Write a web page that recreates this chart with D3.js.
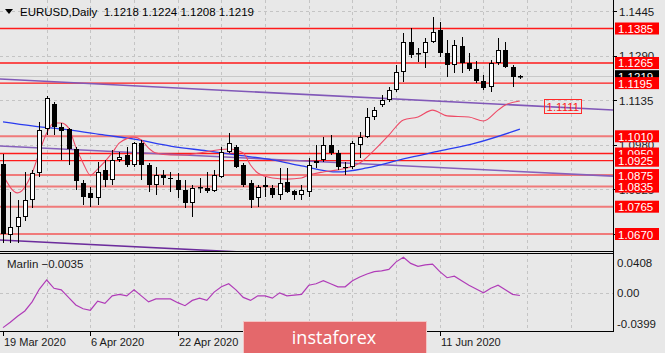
<!DOCTYPE html>
<html>
<head>
<meta charset="utf-8">
<script src="https://cdn.jsdelivr.net/npm/d3@7"></script>
<style>
body { margin: 0; background: #e8e8e8; }
svg text { font-family: "Liberation Sans", Arial, sans-serif; }
</style>
</head>
<body>
<svg id="chart" width="665" height="353"></svg>
<script>
// daily candles, 19 Mar 2020 .. 26 Jun 2020 (bar index 0..71)
const barOpen = [1.0915,1.0668,1.0694,1.0729,1.0788,1.0882,1.1035,1.1122,1.1042,1.1035,
  1.0966,1.0847,1.0813,1.0795,1.0893,1.0858,1.0927,1.0944,1.0910,1.0986,
  1.0910,1.0840,1.0875,1.0866,1.0858,1.0823,1.0778,1.0829,1.0830,1.0820,
  1.0868,1.0955,1.0973,1.0910,1.0847,1.0795,1.0840,1.0830,1.0806,1.0851,
  1.0820,1.0806,1.0816,1.0917,1.0927,1.0980,1.0952,1.0902,1.0903,1.0980,
  1.1007,1.1077,1.1119,1.1136,1.1171,1.1234,1.1338,1.1299,1.1300,1.1338,
  1.1380,1.1300,1.1258,1.1324,1.1265,1.1244,1.1202,1.1181,1.1265,1.1310,
  1.1251,1.1218];
const barHigh = [1.0950,1.0815,1.0788,1.0886,1.0893,1.1060,1.1150,1.1129,1.1056,1.1039,
  1.0973,1.0858,1.0833,1.0920,1.0927,1.0962,1.0955,1.0973,1.0990,1.0997,
  1.0917,1.0903,1.0893,1.0886,1.0882,1.0858,1.0840,1.0865,1.0886,1.0893,
  1.0973,1.1021,1.0980,1.0917,1.0858,1.0840,1.0868,1.0840,1.0900,1.0900,
  1.0823,1.0840,1.0934,1.0980,1.1007,1.1014,1.0962,1.0920,1.0995,1.1025,
  1.1108,1.1112,1.1152,1.1182,1.1258,1.1369,1.1387,1.1317,1.1352,1.1425,
  1.1408,1.1345,1.1345,1.1355,1.1300,1.1272,1.1223,1.1276,1.1352,1.1338,
  1.1258,1.1224];
const barLow = [1.0638,1.0639,1.0639,1.0715,1.0760,1.0868,1.1014,1.1014,1.0927,1.0910,
  1.0823,1.0771,1.0764,1.0771,1.0833,1.0840,1.0920,1.0903,1.0903,1.0858,
  1.0816,1.0806,1.0840,1.0816,1.0795,1.0760,1.0729,1.0813,1.0813,1.0816,
  1.0865,1.0952,1.0900,1.0833,1.0760,1.0764,1.0799,1.0795,1.0788,1.0813,
  1.0788,1.0788,1.0799,1.0900,1.0920,1.0945,1.0893,1.0875,1.0895,1.0935,
  1.1004,1.1067,1.1112,1.1129,1.1164,1.1199,1.1282,1.1268,1.1248,1.1334,
  1.1286,1.1216,1.1230,1.1230,1.1237,1.1195,1.1171,1.1164,1.1258,1.1248,
  1.1181,1.1208];
const barClose = [1.0670,1.0694,1.0729,1.0788,1.0882,1.1032,1.1143,1.1042,1.1028,1.0966,
  1.0854,1.0799,1.0795,1.0886,1.0858,1.0927,1.0938,1.0910,1.0986,1.0910,
  1.0840,1.0875,1.0865,1.0864,1.0823,1.0778,1.0830,1.0834,1.0820,1.0875,
  1.0955,1.0986,1.0903,1.0840,1.0788,1.0833,1.0833,1.0806,1.0848,1.0816,
  1.0806,1.0823,1.0910,1.0924,1.0980,1.0952,1.0903,1.0901,1.0987,1.1007,
  1.1077,1.1101,1.1136,1.1171,1.1234,1.1338,1.1293,1.1301,1.1338,1.1373,
  1.1300,1.1258,1.1328,1.1265,1.1244,1.1202,1.1178,1.1265,1.1310,1.1251,
  1.1216,1.1219];

// fast (pink) and slow (blue) moving averages
const fastBars = [0,2,4,5,6,7,8,9,10,11,12,13,15,16,18,19,20,21,23,25,27,31,33,34,35,37,39,41,42,44,46,49,51,53,55,57,59,61,64,66,68,69,71];
const fastVals = [1.0875,1.0813,1.0882,1.0955,1.1021,1.1056,1.1056,1.1039,1.0973,1.0917,1.0875,1.0896,1.0952,1.0987,1.1007,1.0997,1.0969,1.0952,1.0945,1.0945,1.0952,1.0966,1.0952,1.0910,1.0882,1.0865,1.0861,1.0865,1.0875,1.0886,1.0893,1.0917,1.0962,1.1014,1.1067,1.1077,1.1101,1.1081,1.1077,1.1063,1.1101,1.1119,1.1133];
const slowBars = [0,4,9,14,18,23,28,32,37,41,46,50,55,60,65,71];
const slowVals = [1.1060,1.1046,1.1032,1.1014,1.1000,1.0976,1.0959,1.0945,1.0928,1.0907,1.0886,1.0900,1.0931,1.0959,1.0987,1.1035];

// channel lines (anchor bars and prices)
const trendBars = [-1, 85];
const trendUpper = [1.1210, 1.1100];
const trendMiddle = [1.0977, 1.0870];
const trendLower = [1.0650, 1.0541];
const trendTag = "1.1111";

// horizontal levels and price axis
const levelPrices = [1.1385, 1.1265, 1.1195, 1.1010, 1.0950, 1.0925, 1.0875, 1.0835, 1.0765, 1.0670];
const gridPrices = [1.1445, 1.1290, 1.1135, 1.0980, 1.0825, 1.0670];
const bidPrice = 1.1219;

// time axis
const tickBars = [0, 12, 24, 36, 48, 60];
const tickLabels = ["19 Mar 2020", "6 Apr 2020", "22 Apr 2020", "8 May 2020", "26 May 2020", "11 Jun 2020"];

// Marlin oscillator
const marlin = [-0.046,-0.039,-0.031,-0.024,-0.012,0.005,0.017,0.006,0.004,-0.006,
  -0.016,-0.021,-0.023,-0.011,-0.014,-0.004,-0.002,-0.004,0.004,-0.004,
  -0.012,-0.008,-0.008,-0.008,-0.013,-0.017,-0.010,-0.007,-0.010,0.001,
  0.008,0.012,0.004,-0.006,-0.010,-0.004,-0.004,-0.007,0.000,-0.004,
  -0.003,-0.002,0.010,0.012,0.016,0.012,0.008,0.008,0.016,0.021,
  0.025,0.028,0.029,0.031,0.041,0.047,0.039,0.035,0.037,0.038,
  0.028,0.020,0.022,0.016,0.010,0.005,0.000,0.006,0.010,0.004,
  -0.002,-0.0035];
const marlinTicks = [0.0408, 0, -0.0399];
const marlinTickLabels = ["0.0408", "0.00", "-0.0399"];

const plotR = 613, mainB = 251, subT = 253, subB = 331;
const svg = d3.select("#chart");
const fmt = d3.format(".4f");

const x = d3.scaleLinear().domain([0, 71]).range([3, 519.9]);
const y = d3.scaleLinear().domain([1.0670, 1.1385]).range([234, 28.5]);
const ym = d3.scaleLinear().domain([-0.0399, 0.0408]).range([323, 262]);

svg.append("rect").attr("width", 665).attr("height", 353).attr("fill", "#e8e8e8");

const defs = svg.append("defs");
defs.append("clipPath").attr("id", "clipMain")
  .append("rect").attr("x", 0).attr("y", 0).attr("width", plotR).attr("height", mainB);
defs.append("clipPath").attr("id", "clipSub")
  .append("rect").attr("x", 0).attr("y", subT + 1).attr("width", plotR).attr("height", subB - subT - 1);

const main = svg.append("g").attr("clip-path", "url(#clipMain)");
const sub = svg.append("g").attr("clip-path", "url(#clipSub)");

// grid
const gridBars = d3.range(6, 85, 6);
[main, sub].forEach((g, k) => {
  g.selectAll("line.vg").data(gridBars).join("line")
    .attr("class", "vg")
    .attr("x1", d => Math.round(x(d)) + 0.5).attr("x2", d => Math.round(x(d)) + 0.5)
    .attr("y1", k ? subT : 0).attr("y2", k ? subB : mainB)
    .attr("stroke", "#c4c4c4").attr("stroke-dasharray", "3,3");
});
main.selectAll("line.hg").data(gridPrices).join("line")
  .attr("class", "hg")
  .attr("x1", 0).attr("x2", plotR)
  .attr("y1", d => Math.round(y(d)) + 0.5).attr("y2", d => Math.round(y(d)) + 0.5)
  .attr("stroke", "#c4c4c4").attr("stroke-dasharray", "3,3");
sub.append("line")
  .attr("x1", 0).attr("x2", plotR)
  .attr("y1", Math.round(ym(0)) + 0.5).attr("y2", Math.round(ym(0)) + 0.5)
  .attr("stroke", "#c4c4c4").attr("stroke-dasharray", "3,3");

// bid line
main.append("line")
  .attr("x1", 0).attr("x2", plotR)
  .attr("y1", Math.round(y(bidPrice)) + 0.5).attr("y2", Math.round(y(bidPrice)) + 0.5)
  .attr("stroke", "#c8c8c8");

// horizontal levels
const softLevels = new Set([1.1010, 1.0875, 1.0835, 1.0765, 1.0670]);
main.selectAll("line.lvl").data(levelPrices).join("line")
  .attr("class", "lvl")
  .attr("x1", 0).attr("x2", plotR)
  .attr("y1", d => y(d)).attr("y2", d => y(d))
  .attr("stroke", d => softLevels.has(d) ? "#f07a7a" : "#ff1a1a")
  .attr("stroke-width", d => softLevels.has(d) ? 2 : 1.3);

// channel lines
const trendLine = d3.line().x((d, i) => x(trendBars[i])).y(d => y(d));
[[trendUpper, "#8158b8"], [trendMiddle, "#8660bc"], [trendLower, "#6c2c9c"]].forEach(([vals, col]) => {
  main.append("path").attr("d", trendLine(vals))
    .attr("fill", "none").attr("stroke", col).attr("stroke-width", 1.6);
});

// moving averages
const maLine = bars => d3.line().x((d, i) => x(bars[i])).y(d => y(d)).curve(d3.curveMonotoneX);
main.append("path").attr("d", maLine(slowBars)(slowVals))
  .attr("fill", "none").attr("stroke", "#2a3cf0").attr("stroke-width", 1.3);
main.append("path").attr("d", maLine(fastBars)(fastVals))
  .attr("fill", "none").attr("stroke", "#ee4a66").attr("stroke-width", 1.1);

// candles
const bars = d3.range(barOpen.length);
const px = i => Math.round(x(i));
main.selectAll("line.wick").data(bars).join("line")
  .attr("class", "wick")
  .attr("x1", i => px(i) + 0.5).attr("x2", i => px(i) + 0.5)
  .attr("y1", i => Math.round(y(barHigh[i]))).attr("y2", i => Math.round(y(barLow[i])))
  .attr("stroke", "#000");
main.selectAll("rect.body").data(bars).join("rect")
  .attr("class", "body")
  .each(function (i) {
    const up = barClose[i] >= barOpen[i];
    const top = Math.round(y(Math.max(barOpen[i], barClose[i])));
    const bot = Math.round(y(Math.min(barOpen[i], barClose[i])));
    const h = Math.max(1, bot - top);
    if (up) {
      d3.select(this).attr("x", px(i) - 1.5).attr("y", top + 0.5)
        .attr("width", 4).attr("height", Math.max(0.5, h - 1))
        .attr("fill", "#fff").attr("stroke", "#000");
    } else {
      d3.select(this).attr("x", px(i) - 2).attr("y", top)
        .attr("width", 5).attr("height", h).attr("fill", "#000");
    }
  });

// trend line tag
svg.append("rect").attr("x", 544.5).attr("y", 99.5).attr("width", 37).attr("height", 14)
  .attr("fill", "none").attr("stroke", "#ff2a2a");
svg.append("text").attr("x", 546.5).attr("y", 111)
  .attr("fill", "#ff1a1a").attr("font-size", 11.5).text(trendTag);

// Marlin
sub.append("path")
  .attr("d", d3.line().x((d, i) => x(i)).y(d => ym(d))(marlin))
  .attr("fill", "none").attr("stroke", "#b03cb8").attr("stroke-width", 1.2);

// frames
const frame = svg.append("g").attr("stroke", "#000").attr("fill", "none");
frame.append("line").attr("x1", plotR + 0.5).attr("x2", plotR + 0.5).attr("y1", 0).attr("y2", subB + 1);
frame.append("line").attr("x1", 0).attr("x2", plotR + 1).attr("y1", mainB + 0.5).attr("y2", mainB + 0.5);
frame.append("line").attr("x1", 0).attr("x2", plotR + 1).attr("y1", subT + 0.5).attr("y2", subT + 0.5);
frame.append("line").attr("x1", 0).attr("x2", plotR + 1).attr("y1", subB + 0.5).attr("y2", subB + 0.5);

// price axis: grid labels
svg.selectAll("line.pt").data(gridPrices).join("line")
  .attr("class", "pt")
  .attr("x1", plotR).attr("x2", plotR + 4)
  .attr("y1", d => Math.round(y(d)) + 0.5).attr("y2", d => Math.round(y(d)) + 0.5)
  .attr("stroke", "#000");
svg.selectAll("text.pl").data(gridPrices).join("text")
  .attr("class", "pl")
  .attr("x", 619).attr("y", d => y(d) + 4.5)
  .attr("font-size", 11.5).attr("fill", "#1a1a1a")
  .text(d => fmt(d));

// bid box
svg.append("rect").attr("x", 615).attr("y", y(bidPrice) - 6).attr("width", 44).attr("height", 12).attr("fill", "#000");
svg.append("text").attr("x", 618).attr("y", y(bidPrice) + 4.5)
  .attr("font-size", 11.5).attr("fill", "#fff").text(fmt(bidPrice));

// level boxes
const lb = svg.selectAll("g.lb").data(levelPrices).join("g").attr("class", "lb");
lb.append("rect").attr("x", 615).attr("y", d => y(d) - 6).attr("width", 44).attr("height", 12)
  .attr("fill", "#ff0000");
lb.append("text").attr("x", 618).attr("y", d => y(d) + 4.5)
  .attr("font-size", 11.5).attr("fill", "#fff").text(d => fmt(d));

// Marlin axis
svg.selectAll("text.ml").data(marlinTicks).join("text")
  .attr("class", "ml")
  .attr("x", 617).attr("y", d => ym(d) + 4.5)
  .attr("font-size", 11.5).attr("fill", "#1a1a1a")
  .text((d, i) => marlinTickLabels[i]);

// time axis
svg.selectAll("line.tt").data(tickBars).join("line")
  .attr("class", "tt")
  .attr("x1", d => px(d) + 0.5).attr("x2", d => px(d) + 0.5)
  .attr("y1", subB).attr("y2", subB + 5)
  .attr("stroke", "#000");
svg.selectAll("text.tl").data(tickBars).join("text")
  .attr("class", "tl")
  .attr("x", d => px(d) + 1).attr("y", 346)
  .attr("font-size", 11).attr("fill", "#1a1a1a")
  .text((d, i) => tickLabels[i]);

// header
svg.append("path").attr("d", "M5,9 L13,9 L9,14 Z").attr("fill", "#000");
const last = barOpen.length - 1;
svg.append("text").attr("x", 20).attr("y", 16).attr("font-size", 11.5).attr("fill", "#000")
  .style("white-space", "pre")
  .text("EURUSD,Daily  " + [barOpen[last], barHigh[last], barLow[last], barClose[last]].map(fmt).join(" "));
svg.append("text").attr("x", 7).attr("y", 268).attr("font-size", 11.5).attr("fill", "#1a1a1a")
  .text("Marlin " + fmt(marlin[last]));

// watermark
svg.append("rect").attr("x", 243.5).attr("y", 321.5).attr("width", 183).attr("height", 34)
  .attr("fill", "#e4686b").attr("stroke", "#f4c4c4");
svg.append("text").attr("x", 334).attr("y", 344).attr("text-anchor", "middle")
  .style("font-family", "'Open Sans', sans-serif").attr("font-size", 18).attr("fill", "#fff")
  .text("instaforex");
</script>
</body>
</html>
